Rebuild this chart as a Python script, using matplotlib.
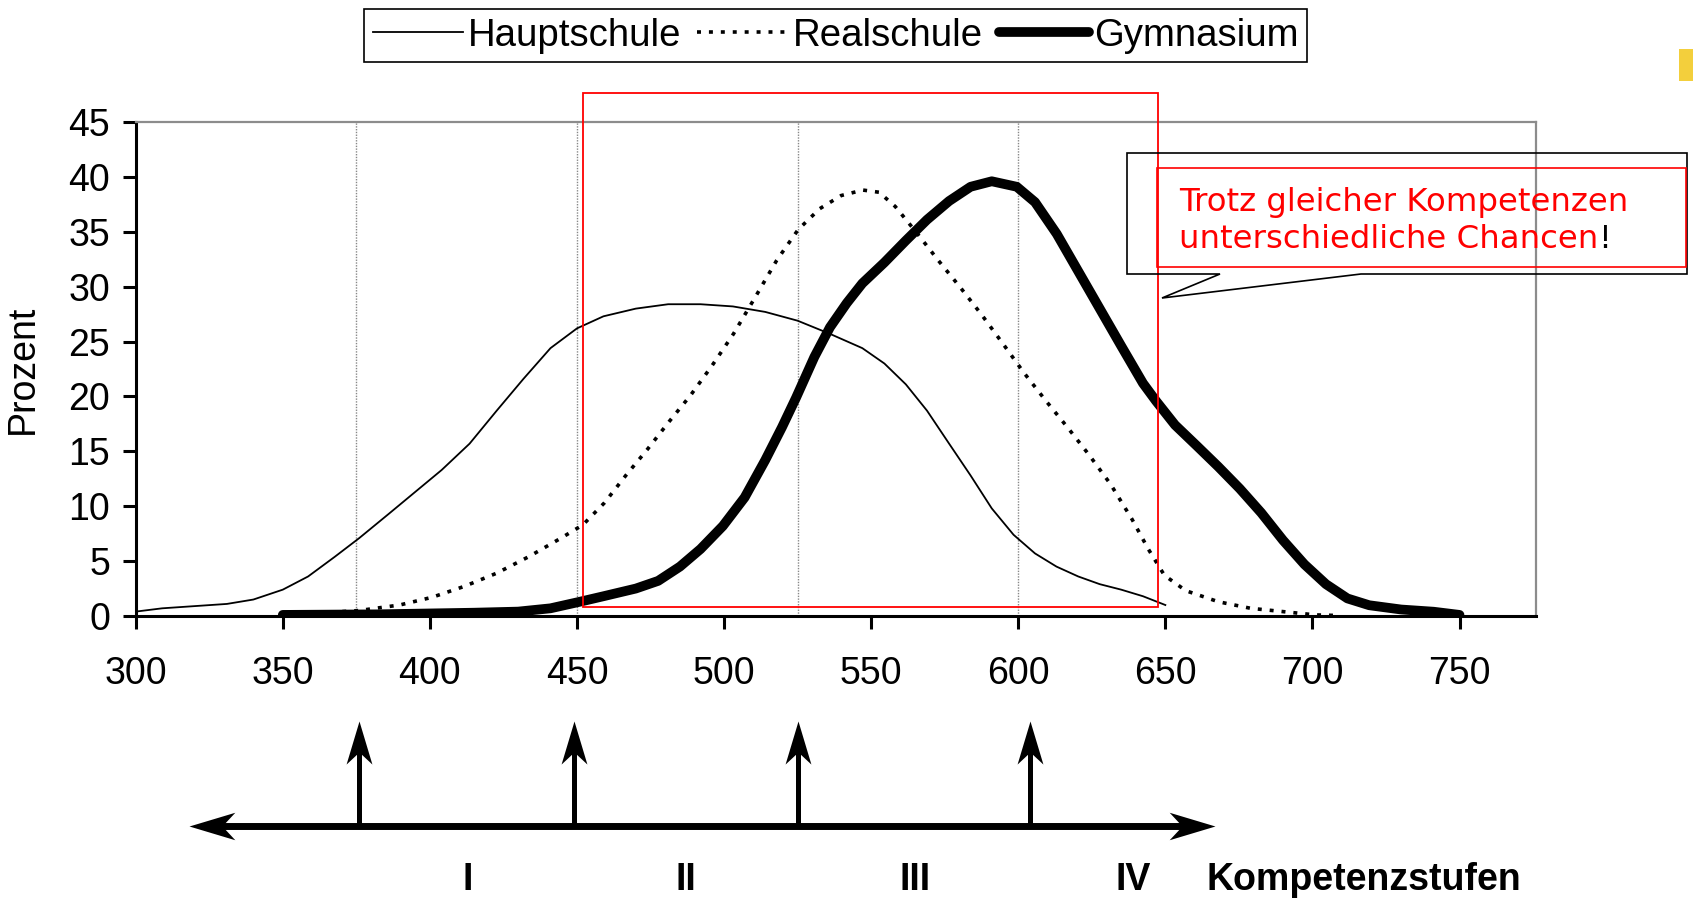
import numpy as np
import matplotlib
matplotlib.use('Agg')
import matplotlib.pyplot as plt
import matplotlib.transforms as mtransforms
from matplotlib.path import Path
from matplotlib.patches import Rectangle, Polygon

plt.rcParams['font.family'] = ['Liberation Sans', 'DejaVu Sans']

# --- data ---
haupt_x = [300, 309, 320, 331, 340, 350, 358.6, 367.7, 376, 386, 395, 404, 413.5, 422.7,
           431.8, 441, 450, 459, 470, 481, 492, 503, 514, 525, 536, 547, 554.5, 561.8,
           569, 576.5, 583.8, 591, 598.4, 605.7, 613, 620.4, 627.7, 635, 642.4, 650]
haupt_y = [0.4, 0.7, 0.9, 1.1, 1.5, 2.4, 3.6, 5.4, 7.1, 9.3, 11.3, 13.3, 15.7, 18.7,
           21.6, 24.4, 26.2, 27.3, 28.0, 28.4, 28.4, 28.2, 27.7, 26.9, 25.7, 24.4, 23.0, 21.1,
           18.7, 15.7, 12.8, 9.8, 7.4, 5.7, 4.5, 3.6, 2.9, 2.4, 1.8, 1.0]

real_x = [350, 364, 376, 389.7, 400.7, 411.7, 422.7, 433.6, 444.6, 452, 459.3, 466.6, 474,
          481.3, 488.6, 495.9, 503.2, 510.5, 517.9, 525.2, 532.5, 539.8, 547.2, 552.7,
          558.2, 565.5, 572.8, 580.1, 587.4, 594.8, 602.1, 609.4, 616.7, 624, 631.4,
          638.7, 644.2, 649.7, 657, 668, 679, 690, 701, 708]
real_y = [0.2, 0.3, 0.5, 1.0, 1.7, 2.7, 3.9, 5.4, 7.1, 8.3, 10.3, 12.8, 15.2,
          17.7, 20.1, 22.8, 25.7, 29.0, 32.4, 35.2, 37.1, 38.3, 38.8, 38.6,
          37.3, 34.9, 32.4, 30.0, 27.5, 24.8, 22.1, 19.6, 17.2, 14.7, 12.0,
          8.8, 6.1, 3.7, 2.3, 1.3, 0.7, 0.4, 0.1, 0.05]

gym_x = [350, 382, 415, 430, 441, 451, 459, 470, 477.6, 485, 492, 499.6, 507, 514, 519.7,
         524.5, 530.7, 536, 541.7, 547, 554.5, 561.8, 569, 576.5, 583.8, 591, 599.5,
         605.7, 613.1, 620.4, 627.7, 635, 642.4, 646.8, 653.3, 660.7, 668, 675.3, 682.6,
         690, 697.3, 704.6, 711.9, 719.3, 730.2, 741.2, 750]
gym_y = [0.1, 0.15, 0.3, 0.4, 0.7, 1.3, 1.8, 2.5, 3.2, 4.5, 6.1, 8.2, 10.8, 14.2, 17.2,
         19.9, 23.6, 26.3, 28.5, 30.3, 32.2, 34.2, 36.1, 37.8, 39.1, 39.6, 39.1,
         37.7, 34.8, 31.4, 28.0, 24.6, 21.2, 19.6, 17.4, 15.5, 13.6, 11.6, 9.4,
         6.9, 4.7, 2.9, 1.6, 0.98, 0.59, 0.39, 0.1]

stage_bounds = [375, 450, 525, 600]
arrow_x = [376, 449, 525, 604]
stage_labels = ['I', 'II', 'III', 'IV']
stage_label_x = [413, 487, 565, 639]

W, H = 1693, 902
fig = plt.figure(figsize=(W / 100, H / 100), dpi=100)
ax = fig.add_axes([135.7 / W, 1 - 616 / H, (1536 - 135.7) / W, (616 - 122) / H])

for xb in stage_bounds:
    ax.plot([xb, xb], [0, 45], color='#888888', lw=1.0, ls=(0, (1, 1)), zorder=1)

l1, = ax.plot(haupt_x, haupt_y, color='black', lw=1.3, label='Hauptschule', zorder=3)
l2, = ax.plot(real_x, real_y, color='black', lw=2.6, ls=(0, (1.1, 2.2)),
              label='Realschule', zorder=3)
l3, = ax.plot(gym_x, gym_y, color='black', lw=7, solid_joinstyle='round',
              solid_capstyle='round', label='Gymnasium', zorder=3)

ax.set_xlim(300, 776)
ax.set_ylim(0, 45)
ax.set_xticks(range(300, 751, 50))
ax.set_yticks(range(0, 46, 5))
ax.tick_params(axis='both', direction='out', length=9.5, width=2.2, labelsize=27)
ax.tick_params(axis='x', pad=19)
ax.tick_params(axis='y', pad=9)
for s in ['left', 'bottom']:
    ax.spines[s].set_linewidth(2.2)
    ax.spines[s].set_color('black')
for s in ['top', 'right']:
    ax.spines[s].set_linewidth(1.6)
    ax.spines[s].set_color('#8c8c8c')
ax.set_ylabel('Prozent', fontsize=27)
ax.yaxis.set_label_coords(-0.068, 0.5)

# red highlight rectangle
ax.add_patch(Rectangle((452, 0.85), 647.4 - 452, 47.6 - 0.85, fill=False,
                       edgecolor='#ff0000', lw=1.3, clip_on=False, zorder=5))

leg = fig.legend(handles=[l1, l2, l3], loc='center', bbox_to_anchor=(0.4935, 0.9605),
                 ncol=3, fontsize=27.6, frameon=True, fancybox=False, edgecolor='black',
                 framealpha=1, handlelength=2.36, handletextpad=0.12, columnspacing=0.42,
                 borderpad=0.22, borderaxespad=0)
leg.get_frame().set_linewidth(1.2)

# --- competence stages below the axis ---
trans = mtransforms.blended_transform_factory(ax.transData, ax.transAxes)
y_base = -0.425
y_top = -0.2126


def head(direction):
    v = np.array([[0, 0], [-1, 0.3], [-0.72, 0], [-1, -0.3], [0, 0]])
    if direction == 'left':
        v[:, 0] *= -1
    elif direction == 'up':
        v = v[:, ::-1].copy()
    codes = [Path.MOVETO, Path.LINETO, Path.LINETO, Path.LINETO, Path.CLOSEPOLY]
    return Path(v, codes)


ax.plot([318 + 10, 667 - 10], [y_base, y_base], transform=trans, color='black', lw=5,
        solid_capstyle='butt', clip_on=False)
ax.plot([318], [y_base], transform=trans, marker=head('left'), ms=66, color='black',
        mew=0, clip_on=False)
ax.plot([667], [y_base], transform=trans, marker=head('right'), ms=66, color='black',
        mew=0, clip_on=False)
for xa in arrow_x:
    ax.plot([xa, xa], [y_base, y_top - 0.055], transform=trans, color='black', lw=3.6,
            solid_capstyle='butt', clip_on=False)
    ax.plot([xa], [y_top], transform=trans, marker=head('up'), ms=62, color='black',
            mew=0, clip_on=False)

for xl, lab in zip(stage_label_x, stage_labels):
    ax.text(xl, -0.534, lab, transform=trans, ha='center', va='center', fontsize=27,
            fontweight='bold')
ax.text(664, -0.534, 'Kompetenzstufen', transform=trans, ha='left', va='center',
        fontsize=27, fontweight='bold')

# --- callout ---
def fpt(px, py):
    return (px / W, 1 - py / H)


callout = [fpt(*p) for p in [(1127, 153), (1687, 153), (1687, 274), (1361, 274),
                             (1162, 298), (1220, 274), (1127, 274)]]
fig.patches.append(Polygon(callout, closed=True, fill=False, edgecolor='black', lw=1.2,
                           transform=fig.transFigure, figure=fig))
x0, y0 = fpt(1157, 267)
x1, y1 = fpt(1686, 168)
fig.patches.append(Rectangle((x0, y0), x1 - x0, y1 - y0, fill=False, edgecolor='#ff0000',
                             lw=1.2, transform=fig.transFigure, figure=fig))
fig.patches.append(Rectangle(fpt(1679, 81), 14 / W, 32 / H, facecolor='#f3cf3c',
                             edgecolor='none', transform=fig.transFigure, figure=fig))

tx, ty = fpt(1179, 211)
fig.text(tx, ty, 'Trotz gleicher Kompetenzen', color='#ff0000', fontsize=23.3,
         family='DejaVu Sans', va='baseline', ha='left')
tx2, ty2 = fpt(1179, 248)
t2 = fig.text(tx2, ty2, 'unterschiedliche Chancen', color='#ff0000', fontsize=23.3,
              family='DejaVu Sans', va='baseline', ha='left')
fig.canvas.draw()
bb = t2.get_window_extent()
fig.text(bb.x1 / W, ty2, '!', color='black', fontsize=23.3, family='DejaVu Sans',
         va='baseline', ha='left')

fig.savefig('out.png', dpi=100)
